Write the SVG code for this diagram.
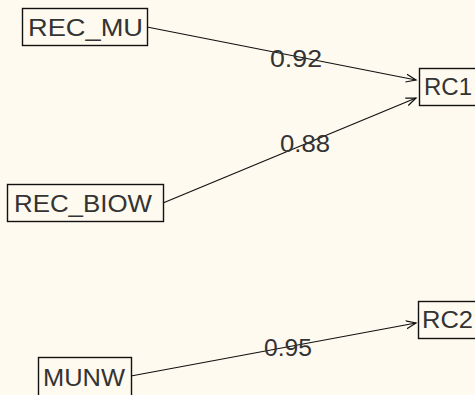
<svg xmlns="http://www.w3.org/2000/svg" width="475" height="395" viewBox="0 0 475 395">
<defs>
<style>
.bg{fill:#fffaf0}
.box{fill:none;stroke:#111;stroke-width:1.4}
.t{font-family:"Liberation Sans",Arial,sans-serif;font-size:24px;fill:#333}
.e{stroke:#111;stroke-width:1.2;fill:none}
</style>
<marker id="arr" markerUnits="userSpaceOnUse" markerWidth="12" markerHeight="10" refX="10" refY="4.5" orient="auto" viewBox="0 0 12 9">
<path d="M0,0.5 L10,4.5 L0,8.5" fill="none" stroke="#111" stroke-width="1.2"/>
</marker>
</defs>
<rect class="bg" x="0" y="0" width="475" height="395"/>
<g id="edges">
<line class="e" x1="147" y1="27" x2="416" y2="80" marker-end="url(#arr)"/>
<text class="t" x="270" y="67" textLength="52" lengthAdjust="spacingAndGlyphs">0.92</text>
<line class="e" x1="163" y1="203" x2="416" y2="98" marker-end="url(#arr)"/>
<text class="t" x="280" y="152" textLength="50" lengthAdjust="spacingAndGlyphs">0.88</text>
<line class="e" x1="131" y1="376" x2="416" y2="323" marker-end="url(#arr)"/>
<text class="t" x="264" y="356" textLength="48" lengthAdjust="spacingAndGlyphs">0.95</text>
</g>
<g id="REC_MU">
<rect class="box" x="22.5" y="8.5" width="125" height="37"/>
<text class="t" x="28" y="36" textLength="115" lengthAdjust="spacingAndGlyphs">REC_MU</text>
</g>
<g id="REC_BIOW">
<rect class="box" x="7.5" y="184.5" width="156" height="37"/>
<text class="t" x="14" y="212" textLength="138" lengthAdjust="spacingAndGlyphs">REC_BIOW</text>
</g>
<g id="MUNW">
<rect class="box" x="38.5" y="357.5" width="93" height="45"/>
<text class="t" x="43" y="386" textLength="82" lengthAdjust="spacingAndGlyphs">MUNW</text>
</g>
<g id="RC1">
<rect class="box" x="419.5" y="68.5" width="70" height="37"/>
<text class="t" x="424" y="95" textLength="48" lengthAdjust="spacingAndGlyphs">RC1</text>
</g>
<g id="RC2">
<rect class="box" x="418.5" y="301.5" width="70" height="37"/>
<text class="t" x="422" y="328" textLength="51" lengthAdjust="spacingAndGlyphs">RC2</text>
</g>
</svg>
